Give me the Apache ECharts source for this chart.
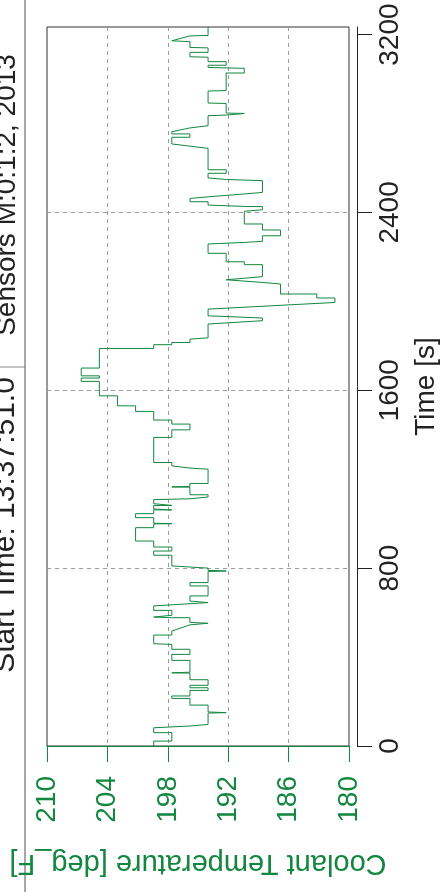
<!DOCTYPE html>
<html>
<head>
<meta charset="utf-8">
<script src="https://cdn.jsdelivr.net/npm/echarts@6/dist/echarts.min.js"></script>
<style>
html,body{margin:0;padding:0;background:#fff;}
#chart{width:440px;height:892px;}
</style>
</head>
<body>
<div id="chart"></div>
<script>
// ---- data ----
const titleSensors = 'Sensors M:0:1:2, 2013';
const titleStart = 'Start Time: 13:37:51.0';
const timeTicks = [0, 800, 1600, 2400, 3200];
const tempTicks = [180, 186, 192, 198, 204, 210];
const timeMax = 3234;
// each segment: temperature held from segStart to segEnd (seconds)
const segStart = [0,22,60,90,97,150,153,184,214,225,250,262,273,298,329,332,385,412,435,460,499,545,552,556,577,580,588,610,645,652,675,720,735,787,790,810,858,877,895,922,982,1000,1002,1027,1045,1062,1066,1082,1090,1112,1120,1130,1165,1168,1181,1250,1260,1275,1388,1422,1448,1466,1505,1530,1575,1640,1655,1665,1700,1788,1805,1815,1836,1913,1935,1995,2015,2033,2085,2097,2104,2111,2165,2178,2216,2265,2270,2295,2321,2348,2412,2427,2433,2448,2470,2483,2490,2548,2555,2576,2592,2698,2708,2738,2753,2780,2790,2838,2845,2847,2892,2948,3027,3052,3062,3078,3100,3120,3142,3172,3194,3196];
const segEnd   = [22,60,82,93,148,151,184,214,225,250,262,273,298,328,331,385,412,435,457,499,517,550,553,577,580,588,610,630,652,675,720,735,785,788,800,858,877,895,922,982,999,1001,1027,1045,1062,1066,1082,1090,1108,1120,1130,1164,1167,1181,1245,1255,1275,1388,1422,1448,1466,1505,1530,1575,1640,1655,1665,1700,1788,1805,1815,1830,1898,1925,1965,2015,2033,2078,2086,2103,2108,2165,2178,2216,2258,2270,2295,2321,2348,2405,2426,2428,2448,2463,2472,2490,2543,2550,2576,2592,2688,2700,2738,2753,2763,2783,2835,2843,2846,2890,2946,3027,3048,3062,3078,3098,3120,3140,3168,3180,3195,3234];
const segTemp  = [199.4,197.6,199.4,195.8,194.0,192.2,194.0,195.8,197.6,195.8,194.0,195.8,194.0,195.8,197.6,195.8,197.6,195.8,197.6,199.4,197.6,195.8,194.0,195.8,197.6,199.4,197.6,199.4,194.0,195.8,194.0,195.8,194.0,192.2,194.0,197.6,199.4,197.6,199.4,201.2,199.4,197.6,199.4,201.2,199.4,197.6,199.4,197.6,199.4,195.8,194.0,195.8,197.6,195.8,194.0,195.8,197.6,199.4,197.6,195.8,197.6,199.4,201.2,203.0,204.8,206.6,204.8,206.6,204.8,199.4,197.6,195.8,194.0,188.6,194.0,181.4,183.2,186.8,188.6,192.2,190.4,188.6,190.4,192.2,194.0,190.4,188.6,186.8,188.6,190.4,188.6,190.4,194.0,195.8,194.0,190.4,188.6,192.2,194.0,192.2,194.0,195.8,197.6,195.8,197.6,195.8,194.0,192.2,190.4,192.2,194.0,192.2,190.4,194.0,192.2,194.0,195.8,194.0,195.8,197.6,195.8,194.0];

// ---- build series data ----
const lineData = [];
for (let i = 0; i < segTemp.length; i++) {
  lineData.push([segTemp[i], segStart[i]]);
  lineData.push([segTemp[i], segEnd[i]]);
}

const GREEN = '#13863f';
const INK = '#222222';
const FONT = 'Liberation Sans, Arial, sans-serif';
const GRIDC = '#9a9a9a';

const chart = echarts.init(document.getElementById('chart'), null, {renderer: 'canvas'});
chart.setOption({
  animation: false,
  backgroundColor: '#ffffff',
  textStyle: {fontFamily: FONT},
  grid: {
    left: 47, top: 27, width: 302, height: 719,
    containLabel: false, outerBoundsMode: 'none',
    show: true, borderColor: '#333', borderWidth: 1, backgroundColor: 'transparent'
  },
  xAxis: {
    type: 'value', min: tempTicks[0], max: tempTicks[tempTicks.length - 1], interval: 6,
    inverse: true, position: 'bottom', offset: 7,
    axisLine: {show: true, lineStyle: {color: GREEN, width: 1}},
    axisTick: {show: true, length: 16, lineStyle: {color: GREEN, width: 1}},
    axisLabel: {rotate: 90, color: GREEN, fontSize: 28, margin: 23, fontFamily: FONT,
      showMinLabel: true, showMaxLabel: true, formatter: function (v) { return String(v); }},
    splitLine: {show: true, showMinLine: false, showMaxLine: false,
      lineStyle: {type: [4, 4], color: GRIDC, width: 1}},
    name: 'Coolant Temperature [deg_F]', nameLocation: 'middle', nameRotate: 180, nameGap: 95,
    nameTextStyle: {color: GREEN, fontSize: 29, fontFamily: FONT}
  },
  yAxis: {
    type: 'value', min: 0, max: timeMax, interval: 800, position: 'right', offset: 8,
    axisLine: {show: true, lineStyle: {color: INK, width: 1}},
    axisTick: {show: true, length: 15, customValues: timeTicks, lineStyle: {color: INK, width: 1}},
    axisLabel: {rotate: 90, color: INK, fontSize: 28, margin: 19, fontFamily: FONT,
      customValues: timeTicks, formatter: function (v) { return String(v); }},
    splitLine: {show: true, showMinLine: false, showMaxLine: false,
      lineStyle: {type: [4, 4], color: GRIDC, width: 1}},
    name: 'Time [s]', nameLocation: 'middle', nameGap: 46,
    nameTextStyle: {color: INK, fontSize: 28, fontFamily: FONT}
  },
  series: [{
    type: 'line', data: lineData, showSymbol: false, symbol: 'none',
    lineStyle: {color: GREEN, width: 1}, sampling: null, silent: true, z: 3
  }],
  graphic: [
    {type: 'line', shape: {x1: 25, y1: 0, x2: 25, y2: 892}, style: {stroke: '#8a8a8a', lineWidth: 1.5}, silent: true},
    {type: 'line', shape: {x1: 0, y1: 367, x2: 25, y2: 367}, style: {stroke: '#8a8a8a', lineWidth: 1}, silent: true},
    {type: 'text', x: 21, y: 195, rotation: Math.PI / 2, silent: true,
      style: {text: titleSensors, fontSize: 28, fontFamily: FONT, fill: INK, align: 'center', verticalAlign: 'bottom'}},
    {type: 'text', x: 21, y: 525, rotation: Math.PI / 2, silent: true,
      style: {text: titleStart, fontSize: 30, fontFamily: FONT, fill: INK, align: 'center', verticalAlign: 'bottom'}}
  ]
});
</script>
</body>
</html>
